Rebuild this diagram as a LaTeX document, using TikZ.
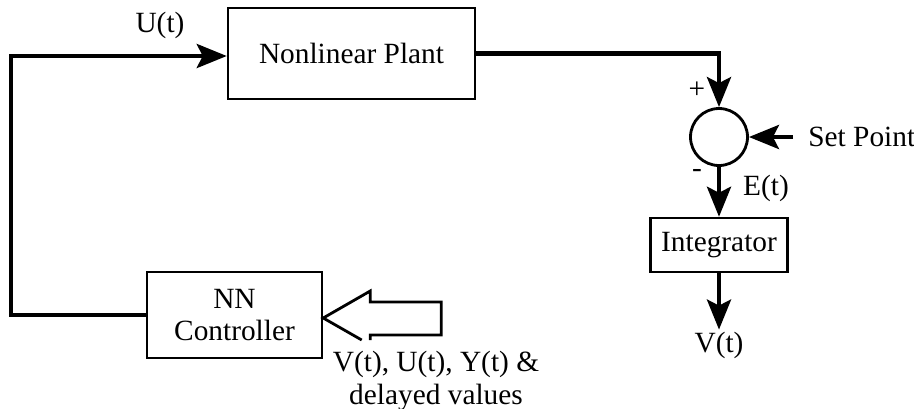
\documentclass[tikz,border=0pt]{standalone}
\usepackage{fontspec}
\setmainfont{Liberation Serif}
\usepackage{tikz}
\usetikzlibrary{arrows.meta,positioning,calc}
\tikzset{
ncbox/.style={rectangle,draw,line width=1.4pt,align=center,inner sep=2pt},
ncsum/.style={circle,draw,line width=1.6pt,minimum size=1.14cm,inner sep=0pt},
ncarr/.style={-{Stealth[length=0.6cm,width=0.48cm,inset=0.12cm]},line width=2.5pt,line join=miter},
nchollow/.style={line width=1.6pt,line join=miter},
nclabel/.style={inner sep=1pt}
}

\begin{document}
\begin{tikzpicture}[
x=1cm,
y=1cm,
every node/.style={font=\fontsize{16.7}{18}\selectfont}
]
\useasboundingbox (0,0) rectangle (18.28,-8.16);
\node[ncbox,minimum width=4.94cm,minimum height=1.82cm]
  (plant) at (7.03,-1.07) {Nonlinear Plant};
\node[ncsum] (sum) at (14.38,-2.74) {};
\node[ncbox,minimum width=2.74cm,minimum height=1.08cm]
  (integ) at (14.38,-4.90) {Integrator};
\node[ncbox,minimum width=3.5cm,minimum height=1.72cm]
  (nn) at (4.69,-6.30) {NN\\Controller};
\node[nclabel] (ulab) at (3.2,-0.5) {U(t)};
\node[nclabel] (plus) at (13.94,-1.80) {+};
\node[nclabel] (minus) at (13.94,-3.46) {-};
\node[nclabel] (elab) at (15.32,-3.76) {E(t)};
\node[nclabel] (vlab) at (14.38,-6.9) {V(t)};
\node[nclabel,anchor=west,inner xsep=0.3cm] (setp) at (15.86,-2.74) {Set Point};
\node[nclabel,align=center,font=\fontsize{16.7}{18.5}\selectfont]
  (inputs) at (8.72,-7.62) {V(t), U(t), Y(t) \&\\delayed values};
\coordinate (fb) at (0.22,-1.12);
\coordinate (tip) at ($(nn.east)+(0,-0.06)$);
\draw[ncarr] (plant.east) -| (sum.north);
\draw[ncarr] (setp.west) -- (sum.east);
\draw[ncarr] (sum.south) -- (integ.north);
\draw[ncarr] (integ.south) -- (vlab.north);
\draw[ncarr] (nn.west) -| (fb) -- (fb -| plant.west);
\draw[nchollow] ($(tip)+(0.77,-0.44)$) -- (tip) -- ++(0.94,0.54) -- ++(0,-0.22) -- ++(1.42,0) -- ++(0,-0.66) -- ++(-1.42,0) -- ++(0,-0.10);
\end{tikzpicture}
\end{document}
